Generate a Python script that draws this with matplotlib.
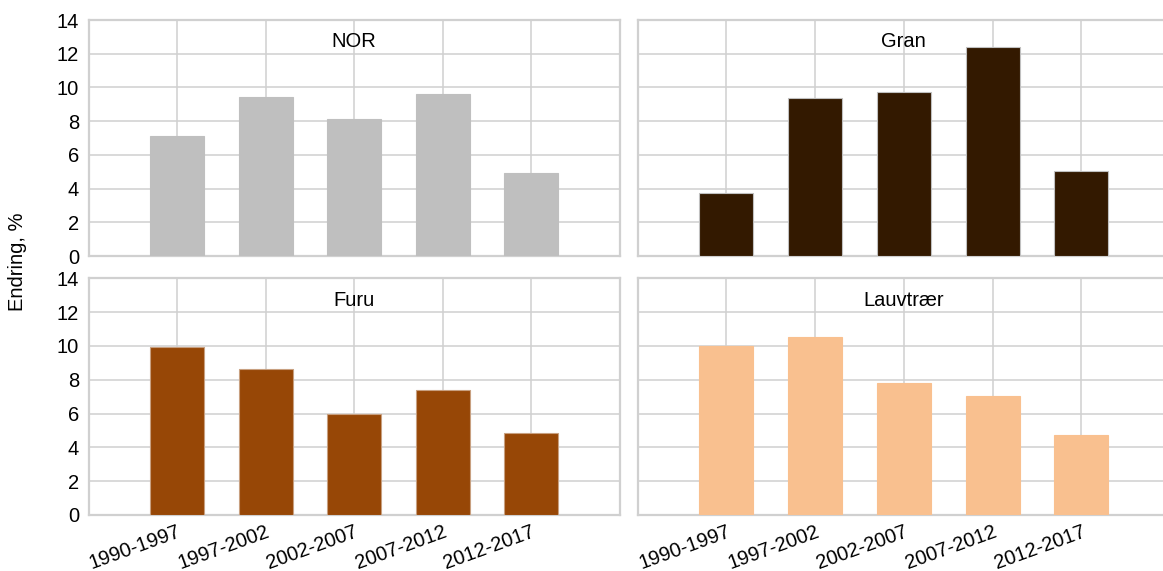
import matplotlib
matplotlib.use("Agg")
import matplotlib.pyplot as plt
import numpy as np

periods = ["1990-1997", "1997-2002", "2002-2007", "2007-2012", "2012-2017"]
nor = [7.1, 9.45, 8.1, 9.6, 4.95]
gran = [3.75, 9.35, 9.75, 12.4, 5.05]
furu = [9.95, 8.65, 6.0, 7.4, 4.87]
lauv = [10.0, 10.55, 7.78, 7.05, 4.75]
titles = ["NOR", "Gran", "Furu", "Lauvtrær"]
colors = ["#BFBFBF", "#331900", "#974706", "#F9C08F"]
edges = ["#BFBFBF", "#C0C0C0", "#C8A080", "#F9C08F"]
yticks = [0, 2, 4, 6, 8, 10, 12, 14]

plt.rcParams['font.family'] = ['Liberation Sans', 'DejaVu Sans']
W, H = 1163, 571
fig = plt.figure(figsize=(W / 100, H / 100), dpi=100)

def rect(l, t, r, b):
    return [l / W, (H - b) / H, (r - l) / W, (b - t) / H]

boxes = [rect(88.6, 20, 619.6, 256), rect(637.7, 20, 1170, 256),
         rect(88.6, 278.3, 619.6, 515), rect(637.7, 278.3, 1170, 515)]
data = [nor, gran, furu, lauv]
x = np.arange(1, len(periods) + 1)
grid_c = "#D0D0D0"
fs = 14.5
for i, (box, vals) in enumerate(zip(boxes, data)):
    ax = fig.add_axes(box)
    ax.set_axisbelow(True)
    ax.bar(x, vals, width=0.61, color=colors[i], edgecolor=edges[i], linewidth=0.8, zorder=3)
    ax.set_xlim(0, 6)
    ax.set_ylim(0, 14)
    ax.set_yticks(yticks)
    ax.set_xticks(np.arange(1, 7))
    ax.grid(True, color=grid_c, linewidth=1.1)
    for s in ax.spines.values():
        s.set_color(grid_c)
        s.set_linewidth(1.6)
    ax.tick_params(axis="y", length=0, labelsize=fs, colors="#000000", pad=7)
    ax.tick_params(axis="x", length=0, labelsize=fs, colors="#000000", pad=5)
    if i % 2 == 1:
        ax.set_yticklabels([])
    if i < 2:
        ax.set_xticklabels([])
    else:
        ax.set_xticklabels(periods + [""], rotation=20, ha="right", rotation_mode="anchor")
    ax.text(0.5, 0.907, titles[i], transform=ax.transAxes, ha="center", va="center", fontsize=fs)

fig.text(18 / W, 1 - 262 / H, "Endring, %", rotation=90, ha="center", va="center", fontsize=14.5)
fig.savefig("out.png", dpi=100)
